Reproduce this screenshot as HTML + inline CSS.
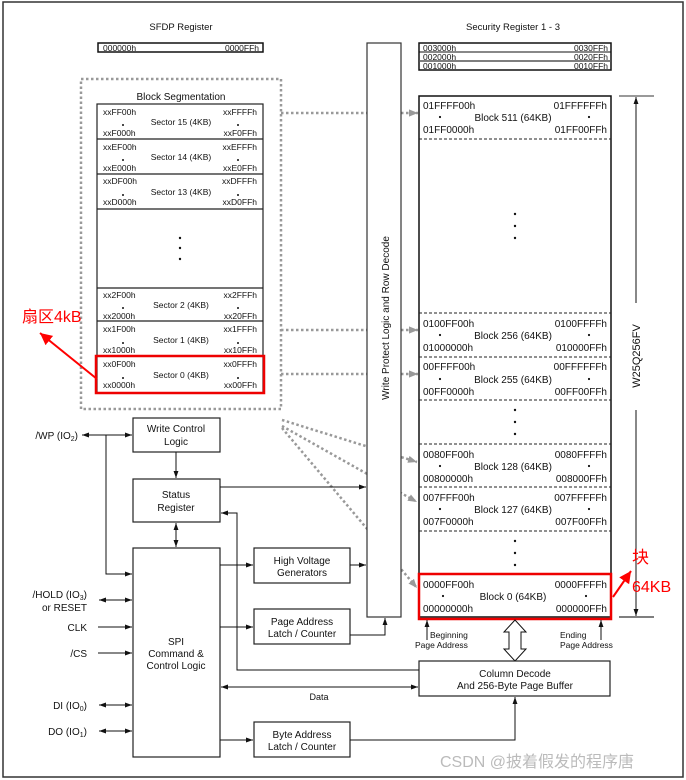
<!DOCTYPE html>
<html><head><meta charset="utf-8"><style>
html,body{margin:0;padding:0;background:#fff}
svg{display:block}
text{font-family:"Liberation Sans",Arial,sans-serif;fill:#111}
.s{font-size:8.5px}
.b{font-size:10px}
.c{font-size:10px;text-anchor:middle}
.m{text-anchor:middle}
.e{text-anchor:end}
</style></head><body>
<svg width="686" height="780" viewBox="0 0 686 780" xmlns="http://www.w3.org/2000/svg">
<defs>
<marker id="a" viewBox="0 0 10 10" refX="10" refY="5" markerWidth="7" markerHeight="7" markerUnits="userSpaceOnUse" orient="auto-start-reverse"><path d="M0,1.5L10,5L0,8.5z" fill="#111"/></marker>
<marker id="g" viewBox="0 0 10 10" refX="10" refY="5" markerWidth="9" markerHeight="9" markerUnits="userSpaceOnUse" orient="auto"><path d="M0,1L10,5L0,9z" fill="#999"/></marker>
<marker id="r" viewBox="0 0 10 10" refX="10" refY="5" markerWidth="12" markerHeight="12" markerUnits="userSpaceOnUse" orient="auto"><path d="M0,0L10,5L0,10z" fill="#f00"/></marker>
</defs>
<rect x="3" y="2" width="680" height="775" fill="none" stroke="#333" stroke-width="1.5"/>

<!-- SFDP -->
<text x="181" y="30" class="c" style="font-size:9.5px">SFDP Register</text>
<rect x="98" y="43" width="165" height="9" fill="none" stroke="#111" stroke-width="1.5"/>
<text x="103" y="51" class="s">000000h</text><text x="259" y="51" class="s e">0000FFh</text>

<!-- Security -->
<text x="513" y="30" class="c" style="font-size:9.5px">Security Register 1 - 3</text>
<rect x="419" y="43" width="192" height="27" fill="none" stroke="#111" stroke-width="1.5"/>
<line x1="419" y1="52" x2="611" y2="52" stroke="#111"/><line x1="419" y1="61" x2="611" y2="61" stroke="#555" stroke-width="1.5"/>
<text x="423" y="51" class="s">003000h</text><text x="608" y="51" class="s e">0030FFh</text>
<text x="423" y="60" class="s">002000h</text><text x="608" y="60" class="s e">0020FFh</text>
<text x="423" y="69" class="s">001000h</text><text x="608" y="69" class="s e">0010FFh</text>

<!-- Block segmentation -->
<rect x="81" y="79" width="200" height="330" fill="none" stroke="#999" stroke-width="2.5" stroke-dasharray="2.5,2.5"/>
<text x="181" y="100" class="c">Block Segmentation</text>
<rect x="97" y="104" width="166" height="289" fill="none" stroke="#222" stroke-width="1.2"/>
<g stroke="#222" stroke-width="1.2">
<line x1="97" y1="139" x2="263" y2="139"/><line x1="97" y1="174" x2="263" y2="174"/><line x1="97" y1="209" x2="263" y2="209"/>
<line x1="97" y1="288" x2="263" y2="288"/><line x1="97" y1="321" x2="263" y2="321"/><line x1="97" y1="356" x2="263" y2="356"/>
</g>
<text x="103" y="115" class="s">xxFF00h</text><text x="257" y="115" class="s e">xxFFFFh</text><text x="181" y="125" class="s m">Sector 15 (4KB)</text><text x="103" y="136" class="s">xxF000h</text><text x="257" y="136" class="s e">xxF0FFh</text>
<text x="103" y="150" class="s">xxEF00h</text><text x="257" y="150" class="s e">xxEFFFh</text><text x="181" y="160" class="s m">Sector 14 (4KB)</text><text x="103" y="171" class="s">xxE000h</text><text x="257" y="171" class="s e">xxE0FFh</text>
<text x="103" y="184" class="s">xxDF00h</text><text x="257" y="184" class="s e">xxDFFFh</text><text x="181" y="195" class="s m">Sector 13 (4KB)</text><text x="103" y="205" class="s">xxD000h</text><text x="257" y="205" class="s e">xxD0FFh</text>
<text x="103" y="298" class="s">xx2F00h</text><text x="257" y="298" class="s e">xx2FFFh</text><text x="181" y="308" class="s m">Sector 2 (4KB)</text><text x="103" y="319" class="s">xx2000h</text><text x="257" y="319" class="s e">xx20FFh</text>
<text x="103" y="332" class="s">xx1F00h</text><text x="257" y="332" class="s e">xx1FFFh</text><text x="181" y="343" class="s m">Sector 1 (4KB)</text><text x="103" y="353" class="s">xx1000h</text><text x="257" y="353" class="s e">xx10FFh</text>
<text x="103" y="367" class="s">xx0F00h</text><text x="257" y="367" class="s e">xx0FFFh</text><text x="181" y="378" class="s m">Sector 0 (4KB)</text><text x="103" y="388" class="s">xx0000h</text><text x="257" y="388" class="s e">xx00FFh</text>
<g fill="#111"><circle cx="123" cy="125" r="1"/><circle cx="238" cy="125" r="1"/><circle cx="123" cy="160" r="1"/><circle cx="238" cy="160" r="1"/><circle cx="123" cy="195" r="1"/><circle cx="238" cy="195" r="1"/><circle cx="123" cy="308" r="1"/><circle cx="238" cy="308" r="1"/><circle cx="123" cy="343" r="1"/><circle cx="238" cy="343" r="1"/><circle cx="123" cy="378" r="1"/><circle cx="238" cy="378" r="1"/>
<circle cx="180" cy="238" r="1.2"/><circle cx="180" cy="248" r="1.2"/><circle cx="180" cy="259" r="1.2"/></g>
<rect x="96" y="356" width="168" height="37" fill="none" stroke="#e00" stroke-width="2.5"/>

<!-- dotted connectors -->
<g stroke="#999" stroke-width="2.5" stroke-dasharray="2.5,2.5" fill="none" marker-end="url(#g)">
<line x1="281" y1="113" x2="418" y2="113"/>
<line x1="281" y1="330" x2="418" y2="330"/>
<line x1="281" y1="374" x2="418" y2="374"/>
<line x1="282" y1="420" x2="417" y2="462"/>
<line x1="282" y1="426" x2="417" y2="502"/>
<line x1="282" y1="428" x2="417" y2="588"/>
</g>

<!-- Write protect column -->
<rect x="367" y="43" width="34" height="574" fill="#fff" stroke="#333" stroke-width="1.2"/>
<text transform="translate(389,318) rotate(-90)" class="c">Write Protect Logic and Row Decode</text>

<!-- Main array -->
<rect x="419" y="96" width="192" height="521" fill="none" stroke="#111" stroke-width="1.5"/>
<g stroke="#222" stroke-dasharray="3,2" stroke-width="1">
<line x1="419" y1="139" x2="611" y2="139"/><line x1="419" y1="313" x2="611" y2="313"/><line x1="419" y1="357" x2="611" y2="357"/><line x1="419" y1="400" x2="611" y2="400"/>
<line x1="419" y1="444" x2="611" y2="444"/><line x1="419" y1="487" x2="611" y2="487"/><line x1="419" y1="531" x2="611" y2="531"/>
</g>
<text x="423" y="109" class="b">01FFFF00h</text><text x="607" y="109" class="b e">01FFFFFFh</text><text x="513" y="121" class="b m">Block 511 (64KB)</text><text x="423" y="133" class="b">01FF0000h</text><text x="607" y="133" class="b e">01FF00FFh</text>
<text x="423" y="327" class="b">0100FF00h</text><text x="607" y="327" class="b e">0100FFFFh</text><text x="513" y="339" class="b m">Block 256 (64KB)</text><text x="423" y="351" class="b">01000000h</text><text x="607" y="351" class="b e">010000FFh</text>
<text x="423" y="370" class="b">00FFFF00h</text><text x="607" y="370" class="b e">00FFFFFFh</text><text x="513" y="383" class="b m">Block 255 (64KB)</text><text x="423" y="395" class="b">00FF0000h</text><text x="607" y="395" class="b e">00FF00FFh</text>
<text x="423" y="458" class="b">0080FF00h</text><text x="607" y="458" class="b e">0080FFFFh</text><text x="513" y="470" class="b m">Block 128 (64KB)</text><text x="423" y="482" class="b">00800000h</text><text x="607" y="482" class="b e">008000FFh</text>
<text x="423" y="501" class="b">007FFF00h</text><text x="607" y="501" class="b e">007FFFFFh</text><text x="513" y="513" class="b m">Block 127 (64KB)</text><text x="423" y="525" class="b">007F0000h</text><text x="607" y="525" class="b e">007F00FFh</text>
<text x="423" y="588" class="b">0000FF00h</text><text x="607" y="588" class="b e">0000FFFFh</text><text x="513" y="600" class="b m">Block 0 (64KB)</text><text x="423" y="612" class="b">00000000h</text><text x="607" y="612" class="b e">000000FFh</text>
<g fill="#111">
<circle cx="440" cy="117" r="1.1"/><circle cx="589" cy="117" r="1.1"/>
<circle cx="440" cy="335" r="1.1"/><circle cx="589" cy="335" r="1.1"/><circle cx="440" cy="379" r="1.1"/><circle cx="589" cy="379" r="1.1"/>
<circle cx="440" cy="466" r="1.1"/><circle cx="589" cy="466" r="1.1"/><circle cx="440" cy="509" r="1.1"/><circle cx="589" cy="509" r="1.1"/>
<circle cx="443" cy="596" r="1.1"/><circle cx="586" cy="596" r="1.1"/>
<circle cx="515" cy="214" r="1.2"/><circle cx="515" cy="226" r="1.2"/><circle cx="515" cy="238" r="1.2"/>
<circle cx="515" cy="410" r="1.2"/><circle cx="515" cy="422" r="1.2"/><circle cx="515" cy="434" r="1.2"/>
<circle cx="515" cy="541" r="1.2"/><circle cx="515" cy="553" r="1.2"/><circle cx="515" cy="565" r="1.2"/>
</g>
<rect x="419" y="574" width="192" height="45" fill="none" stroke="#e00" stroke-width="2.5"/>

<!-- size marker -->
<line x1="619" y1="96" x2="654" y2="96" stroke="#333"/><line x1="619" y1="617" x2="654" y2="617" stroke="#555" stroke-width="1.5"/>
<line x1="636" y1="303" x2="636" y2="97" stroke="#111" marker-end="url(#a)"/>
<line x1="636" y1="410" x2="636" y2="616" stroke="#111" marker-end="url(#a)"/>
<text transform="translate(640,356) rotate(-90)" class="c" style="font-size:11px">W25Q256FV</text>

<!-- annotations -->
<text x="632" y="563" style="font-size:17px;fill:#f00;font-family:'Noto Sans CJK SC',sans-serif">块</text>
<text x="632" y="592" style="font-size:16px;fill:#f00">64KB</text>
<line x1="613" y1="597" x2="631" y2="571" stroke="#f00" stroke-width="2" marker-end="url(#r)"/>
<text x="22" y="322" style="font-size:16px;fill:#f00;font-family:'Liberation Sans','Noto Sans CJK SC',sans-serif">扇区4kB</text>
<line x1="97" y1="379" x2="40" y2="333" stroke="#f00" stroke-width="2" marker-end="url(#r)"/>

<!-- page address labels -->
<line x1="427" y1="640" x2="427" y2="620" stroke="#111" marker-end="url(#a)"/>
<line x1="601" y1="640" x2="601" y2="620" stroke="#111" marker-end="url(#a)"/>
<text x="430" y="638" class="s">Beginning</text><text x="415" y="648" class="s">Page Address</text>
<text x="560" y="638" class="s">Ending</text><text x="560" y="648" class="s">Page Address</text>
<polygon points="515,620 504,632 509,632 509,649 504,649 515,661 526,649 521,649 521,632 526,632" fill="#fff" stroke="#111"/>

<!-- Left blocks -->
<g fill="#fff" stroke="#222" stroke-width="1.2">
<rect x="133" y="418" width="87" height="34"/>
<rect x="133" y="479" width="87" height="43"/>
<rect x="133" y="548" width="87" height="209"/>
<rect x="254" y="548" width="96" height="35"/>
<rect x="254" y="609" width="96" height="35"/>
<rect x="254" y="722" width="96" height="35"/>
<rect x="419" y="661" width="191" height="35"/>
</g>
<text x="176" y="432" class="c">Write Control</text><text x="176" y="445" class="c">Logic</text>
<text x="176" y="498" class="c">Status</text><text x="176" y="511" class="c">Register</text>
<text x="176" y="645" class="c">SPI</text><text x="176" y="657" class="c">Command &amp;</text><text x="176" y="669" class="c">Control Logic</text>
<text x="302" y="564" class="c">High Voltage</text><text x="302" y="576" class="c">Generators</text>
<text x="302" y="625" class="c">Page Address</text><text x="302" y="637" class="c">Latch / Counter</text>
<text x="302" y="738" class="c">Byte Address</text><text x="302" y="750" class="c">Latch / Counter</text>
<text x="515" y="677" class="c">Column Decode</text><text x="515" y="689" class="c">And 256-Byte Page Buffer</text>
<text x="319" y="700" class="c" style="font-size:9px">Data</text>

<!-- signals -->
<text x="78" y="439" class="b e">/WP (IO<tspan style="font-size:7px" dy="2">2</tspan><tspan dy="-2">)</tspan></text>
<text x="87" y="598" class="b e">/HOLD (IO<tspan style="font-size:7px" dy="2">3</tspan><tspan dy="-2">)</tspan></text>
<text x="87" y="611" class="b e">or RESET</text>
<text x="87" y="631" class="b e">CLK</text>
<text x="87" y="657" class="b e">/CS</text>
<text x="87" y="709" class="b e">DI (IO<tspan style="font-size:7px" dy="2">0</tspan><tspan dy="-2">)</tspan></text>
<text x="87" y="735" class="b e">DO (IO<tspan style="font-size:7px" dy="2">1</tspan><tspan dy="-2">)</tspan></text>

<g stroke="#111" stroke-width="1" fill="none">
<line x1="82" y1="435" x2="132" y2="435" marker-start="url(#a)" marker-end="url(#a)"/>
<polyline points="106,435 106,574 132,574" marker-end="url(#a)"/>
<line x1="99" y1="600" x2="132" y2="600" marker-start="url(#a)" marker-end="url(#a)"/>
<line x1="98" y1="627" x2="132" y2="627" marker-end="url(#a)"/>
<line x1="98" y1="653" x2="132" y2="653" marker-end="url(#a)"/>
<line x1="99" y1="705" x2="132" y2="705" marker-start="url(#a)" marker-end="url(#a)"/>
<line x1="99" y1="731" x2="132" y2="731" marker-start="url(#a)" marker-end="url(#a)"/>
<line x1="176" y1="452" x2="176" y2="478" marker-end="url(#a)"/>
<line x1="176" y1="523" x2="176" y2="547" marker-start="url(#a)" marker-end="url(#a)"/>
<line x1="220" y1="487" x2="366" y2="487" marker-end="url(#a)"/>
<line x1="220" y1="565" x2="253" y2="565" marker-end="url(#a)"/>
<line x1="350" y1="565" x2="366" y2="565" marker-end="url(#a)"/>
<line x1="220" y1="627" x2="253" y2="627" marker-end="url(#a)"/>
<polyline points="350,635 385,635 385,618" marker-end="url(#a)"/>
<polyline points="419,670 237,670 237,513 221,513" marker-end="url(#a)"/>
<line x1="221" y1="687" x2="418" y2="687" marker-start="url(#a)" marker-end="url(#a)"/>
<line x1="220" y1="740" x2="253" y2="740" marker-end="url(#a)"/>
<polyline points="350,740 515,740 515,697" marker-end="url(#a)"/>
</g>

<text x="440" y="767" style="font-size:16px;fill:#bbb;font-family:'Liberation Sans','Noto Sans CJK SC',sans-serif">CSDN @披着假发的程序唐</text>
</svg>
</body></html>
